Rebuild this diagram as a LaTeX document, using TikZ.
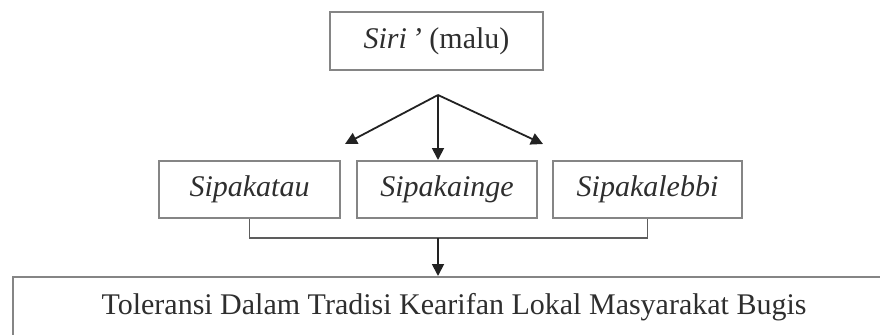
\documentclass[tikz,border=0pt]{standalone}
\usepackage{fontspec}
\setmainfont{Liberation Serif}
\usepackage{xcolor}
\definecolor{frame}{HTML}{858585}
\definecolor{ink}{HTML}{2E2E2E}
\definecolor{wire}{HTML}{222222}
\usetikzlibrary{positioning,arrows.meta}

\begin{document}
\begin{tikzpicture}[x=1pt,y=1pt,
  box/.style={draw=frame,line width=1pt,inner sep=0pt,align=center,text=ink,
    minimum height=28.5pt,font=\fontsize{15}{18}\selectfont},
  arr/.style={-{Triangle[length=6pt,width=6pt]},line width=0.9pt,color=wire},
  link/.style={line width=0.9pt,color=frame!70!black}]
\useasboundingbox (0,0) rectangle (440,167);
% puncak
\node[box,minimum width=106.5pt,minimum height=29pt] (siri) at (218.25,146.5) {\textit{Siri\,'} (malu)};
% tiga nilai
\node[box,minimum width=90.5pt] (katau) at (124.75,72.25) {\textit{Sipakatau}};
\node[box,minimum width=90pt,right=7.5pt of katau] (kainge) {\textit{Sipakainge}};
\node[box,minimum width=94.5pt,right=7pt of kainge] (lebbi) {\textit{Sipakalebbi}};
% hasil
\node[box,minimum width=441pt,minimum height=30pt] (toleransi) at (227,13.5)
  {Toleransi Dalam Tradisi Kearifan Lokal Masyarakat Bugis};
\coordinate (fan) at (219,119.5);
\coordinate (tipl) at (172.5,95);
\coordinate (tipr) at (271.5,95);
\coordinate (join) at (219,48);
\draw[arr] (fan) -- (tipl);
\draw[arr] (fan) -- (fan |- kainge.north);
\draw[arr] (fan) -- (tipr);
\draw[link] (katau.south) -- (katau.south |- join) -- (lebbi.south |- join) -- (lebbi.south);
\draw[arr] (join) -- (join |- toleransi.north);
\end{tikzpicture}
\end{document}
